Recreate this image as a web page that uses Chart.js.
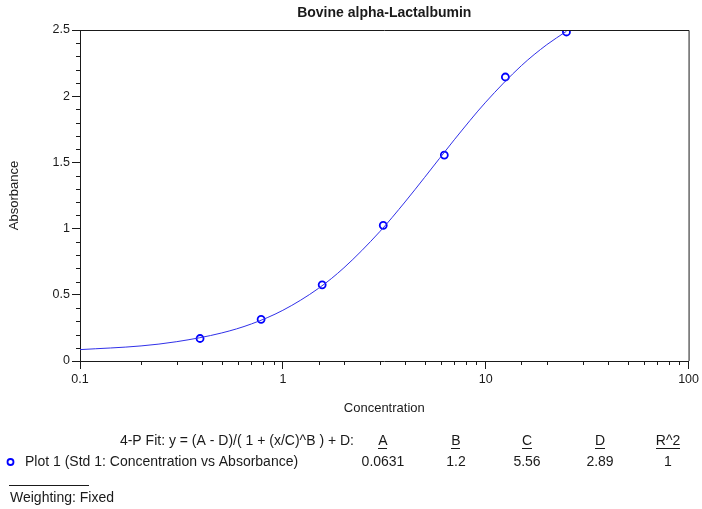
<!DOCTYPE html>
<html>
<head>
<meta charset="utf-8">
<script src="https://cdn.jsdelivr.net/npm/chart.js@4.4.0/dist/chart.umd.min.js"></script>
<style>
	html, body { margin: 0; padding: 0; background: #fff; }
	#wrap { position: relative; width: 702px; height: 509px; }
</style>
</head>
<body>
<div id="wrap"><canvas id="chart-std-curve"></canvas></div>
<script>
// standards (concentration vs absorbance)
const concentration = [0.390625, 0.78125, 1.5625, 3.125, 6.25, 12.5, 25];
const absorbance = [0.17, 0.315, 0.575, 1.025, 1.555, 2.145, 2.485];

// fitted curve
const fitX = [0.1, 0.2, 0.3, 0.5, 0.7, 1, 1.5, 2, 3, 4, 5, 7, 10, 15, 20, 25];
const fitY = [0.086, 0.114, 0.146, 0.212, 0.28, 0.383, 0.549, 0.704, 0.976, 1.201, 1.387, 1.671, 1.955, 2.231, 2.389, 2.49];

const xTickLabels = [0.1, 1, 10, 100];
const yTickLabels = [0, 0.5, 1, 1.5, 2, 2.5];

const fitHeaders = ["A", "B", "C", "D", "R^2"];
const fitValues = ["0.0631", "1.2", "5.56", "2.89", "1"];

const FONT = "'Liberation Sans', Arial, sans-serif";
const INK = "#1a1a1a";
const BLUE = "#0000ff";

const isLabelX = (v) => xTickLabels.some((t) => Math.abs(t - v) < t * 1e-6);
const isLabelY = (v) => yTickLabels.some((t) => Math.abs(t - v) < 1e-6);

// minor ticks, frame and the fit table under the chart
const extrasPlugin = {
	id: "extras",
	afterDraw(chart) {
		const { ctx, chartArea: a, scales } = chart;
		ctx.save();
		ctx.strokeStyle = INK;
		ctx.lineWidth = 1;

		// top + right of the frame
		ctx.beginPath();
		ctx.moveTo(a.left, a.top + 0.5);
		ctx.lineTo(a.right + 0.5, a.top + 0.5);
		ctx.lineTo(a.right + 0.5, a.bottom);
		ctx.stroke();

		// minor ticks
		ctx.beginPath();
		scales.x.ticks.forEach((t) => {
			if (isLabelX(t.value)) return;
			const px = Math.round(scales.x.getPixelForValue(t.value)) + 0.5;
			ctx.moveTo(px, a.bottom);
			ctx.lineTo(px, a.bottom + 4);
		});
		scales.y.ticks.forEach((t) => {
			if (isLabelY(t.value)) return;
			const py = Math.round(scales.y.getPixelForValue(t.value)) + 0.5;
			ctx.moveTo(a.left, py);
			ctx.lineTo(a.left - 4, py);
		});
		ctx.stroke();

		// fit table
		ctx.fillStyle = INK;
		ctx.font = "14px " + FONT;
		ctx.textBaseline = "middle";
		ctx.textAlign = "right";
		ctx.fillText("4-P Fit: y = (A - D)/( 1 + (x/C)^B ) + D:", 354, 441);

		const cols = [383, 456, 527, 600, 668];
		ctx.textAlign = "center";
		fitHeaders.forEach((h, i) => {
			ctx.fillText(h, cols[i], 441);
			const w = ctx.measureText(h).width;
			ctx.fillRect(Math.round(cols[i] - w / 2), 448, Math.round(w), 1);
		});
		fitValues.forEach((v, i) => ctx.fillText(v, cols[i], 462));

		ctx.textAlign = "left";
		ctx.fillText("Plot 1 (Std 1: Concentration vs Absorbance)", 25, 462);
		ctx.fillText("Weighting: Fixed", 10, 498);
		ctx.fillRect(9, 485, 80, 1);

		ctx.strokeStyle = BLUE;
		ctx.lineWidth = 1.8;
		ctx.beginPath();
		ctx.arc(10.5, 462, 3, 0, Math.PI * 2);
		ctx.stroke();
		ctx.restore();
	},
};

const CHART_DATA = {
	datasets: [
		{
			label: "Fit",
			data: fitX.map((x, i) => ({ x, y: fitY[i] })),
			borderColor: "#3030e8",
			borderWidth: 1,
			pointRadius: 0,
			cubicInterpolationMode: "monotone",
			fill: false,
		},
		{
			label: "Plot 1",
			data: concentration.map((x, i) => ({ x, y: absorbance[i] })),
			showLine: false,
			borderColor: BLUE,
			backgroundColor: "#ffffff",
			borderWidth: 1.8,
			pointRadius: 3.5,
			pointStyle: "circle",
		},
	],
};

const CHART_CONFIG = {
	type: "line",
	data: CHART_DATA,
	options: {
		responsive: true,
		maintainAspectRatio: false,
		animation: false,
		events: [],
		layout: {
			padding: { top: 30, right: 13, bottom: 93, left: 0 },
		},
		plugins: {
			legend: { display: false },
			tooltip: { enabled: false },
			title: { display: false },
		},
		scales: {
			x: {
				type: "logarithmic",
				min: 0.1,
				max: 100,
				afterFit: (s) => { s.height = 55; },
				border: { display: true, color: INK, width: 1 },
				grid: {
					display: true,
					drawOnChartArea: false,
					drawTicks: true,
					tickLength: 8,
					tickColor: (c) => (c.tick && isLabelX(c.tick.value) ? INK : "rgba(0,0,0,0)"),
				},
				ticks: {
					autoSkip: false,
					maxRotation: 0,
					padding: 3,
					color: INK,
					font: { family: FONT, size: 12.5 },
					callback: (v) => (isLabelX(v) ? String(v) : ""),
				},
				title: {
					display: true,
					text: "Concentration",
					color: INK,
					font: { family: FONT, size: 13 },
					padding: { top: 0, bottom: 0 },
				},
			},
			y: {
				type: "linear",
				min: 0,
				max: 2.5,
				afterFit: (s) => { s.width = 80; },
				border: { display: true, color: INK, width: 1 },
				grid: {
					display: true,
					drawOnChartArea: false,
					drawTicks: true,
					tickLength: 8,
					tickColor: (c) => (c.tick && isLabelY(c.tick.value) ? INK : "rgba(0,0,0,0)"),
				},
				ticks: {
					stepSize: 0.1,
					autoSkip: false,
					padding: 2,
					color: INK,
					font: { family: FONT, size: 12.5 },
					callback: (v) => (isLabelY(v) ? String(Number(v.toFixed(1))) : ""),
				},
				title: {
					display: true,
					text: "Absorbance",
					color: INK,
					font: { family: FONT, size: 13 },
					padding: { top: 7, bottom: 0 },
				},
			},
		},
	},
	plugins: [extrasPlugin,
		{
			id: "heading",
			afterDraw(chart) {
				const { ctx, chartArea: a } = chart;
				ctx.save();
				ctx.fillStyle = INK;
				ctx.font = "bold 14px " + FONT;
				ctx.textAlign = "center";
				ctx.textBaseline = "middle";
				ctx.fillText("Bovine alpha-Lactalbumin", (a.left + a.right) / 2, 13);
				ctx.restore();
			},
		},
	],
};

new Chart(document.getElementById("chart-std-curve"), CHART_CONFIG);
</script>
</body>
</html>
